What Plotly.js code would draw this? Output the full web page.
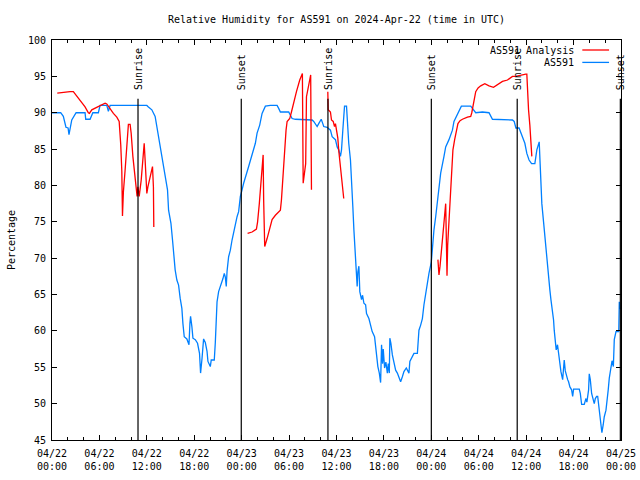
<!DOCTYPE html>
<html>
<head>
<meta charset="utf-8">
<script src="https://cdn.plot.ly/plotly-3.0.1.min.js"></script>
<style>html,body{margin:0;padding:0;background:#fff;}#chart{width:640px;height:480px;}</style>
</head>
<body>
<div id="chart"></div>
<script>
// Observed relative humidity (AS591)
const obsTime = [
"2024-04-22 00:00","2024-04-22 01:06","2024-04-22 01:26","2024-04-22 01:46","2024-04-22 02:02","2024-04-22 02:09","2024-04-22 02:30","2024-04-22 02:47","2024-04-22 03:03","2024-04-22 04:11",
"2024-04-22 04:16","2024-04-22 04:49","2024-04-22 05:10","2024-04-22 05:52","2024-04-22 06:05","2024-04-22 06:56","2024-04-22 07:08","2024-04-22 07:21","2024-04-22 08:37","2024-04-22 09:15",
"2024-04-22 09:53","2024-04-22 11:09","2024-04-22 12:00","2024-04-22 12:12","2024-04-22 12:38","2024-04-22 13:03","2024-04-22 13:16","2024-04-22 13:34","2024-04-22 13:54","2024-04-22 14:14",
"2024-04-22 14:37","2024-04-22 14:45","2024-04-22 15:03","2024-04-22 15:15","2024-04-22 15:23","2024-04-22 15:35","2024-04-22 15:48","2024-04-22 16:01","2024-04-22 16:13","2024-04-22 16:26",
"2024-04-22 16:34","2024-04-22 16:44","2024-04-22 17:04","2024-04-22 17:12","2024-04-22 17:20","2024-04-22 17:27","2024-04-22 17:32","2024-04-22 17:42","2024-04-22 17:50","2024-04-22 18:08",
"2024-04-22 18:25","2024-04-22 18:40","2024-04-22 18:48","2024-04-22 18:59","2024-04-22 19:11","2024-04-22 19:24","2024-04-22 19:37","2024-04-22 19:44","2024-04-22 20:02","2024-04-22 20:09",
"2024-04-22 20:32","2024-04-22 20:40","2024-04-22 20:47","2024-04-22 20:53","2024-04-22 21:05","2024-04-22 21:23","2024-04-22 21:38","2024-04-22 21:48","2024-04-22 21:56","2024-04-22 22:03",
"2024-04-22 22:09","2024-04-22 22:21","2024-04-22 22:34","2024-04-22 22:47","2024-04-22 22:59","2024-04-22 23:12","2024-04-22 23:25","2024-04-22 23:37","2024-04-22 23:50",
"2024-04-23 00:03","2024-04-23 00:15","2024-04-23 00:53","2024-04-23 01:19","2024-04-23 01:44","2024-04-23 01:57","2024-04-23 02:17","2024-04-23 02:35","2024-04-23 03:00","2024-04-23 03:38",
"2024-04-23 04:29","2024-04-23 04:41","2024-04-23 04:54","2024-04-23 05:57","2024-04-23 06:23","2024-04-23 06:48","2024-04-23 07:39","2024-04-23 08:29","2024-04-23 08:55","2024-04-23 09:07",
"2024-04-23 09:33","2024-04-23 09:45","2024-04-23 10:04","2024-04-23 10:16","2024-04-23 10:23","2024-04-23 10:49","2024-04-23 11:14","2024-04-23 11:27","2024-04-23 11:52","2024-04-23 12:05",
"2024-04-23 12:17","2024-04-23 12:30","2024-04-23 12:38","2024-04-23 12:48","2024-04-23 13:01","2024-04-23 13:16","2024-04-23 13:21","2024-04-23 13:33","2024-04-23 13:46","2024-04-23 13:54",
"2024-04-23 13:59","2024-04-23 14:04","2024-04-23 14:12","2024-04-23 14:24","2024-04-23 14:32","2024-04-23 14:37","2024-04-23 14:42","2024-04-23 14:50","2024-04-23 14:57","2024-04-23 15:10",
"2024-04-23 15:18","2024-04-23 15:28","2024-04-23 15:41","2024-04-23 15:48","2024-04-23 16:06","2024-04-23 16:19","2024-04-23 16:31","2024-04-23 16:49","2024-04-23 16:57","2024-04-23 17:04",
"2024-04-23 17:14","2024-04-23 17:25","2024-04-23 17:35","2024-04-23 17:42","2024-04-23 17:50","2024-04-23 17:55","2024-04-23 18:05","2024-04-23 18:15","2024-04-23 18:26","2024-04-23 18:33",
"2024-04-23 18:41","2024-04-23 18:45","2024-04-23 18:53","2024-04-23 19:04","2024-04-23 19:16","2024-04-23 19:29","2024-04-23 19:42","2024-04-23 19:54","2024-04-23 20:07","2024-04-23 20:20",
"2024-04-23 20:32","2024-04-23 20:50","2024-04-23 21:10","2024-04-23 21:17","2024-04-23 21:36","2024-04-23 21:48","2024-04-23 22:14","2024-04-23 22:26","2024-04-23 22:39","2024-04-23 22:52",
"2024-04-23 23:04","2024-04-23 23:17","2024-04-23 23:30","2024-04-23 23:42",
"2024-04-24 00:00","2024-04-24 00:10","2024-04-24 00:20","2024-04-24 00:33","2024-04-24 00:46","2024-04-24 00:58","2024-04-24 01:11","2024-04-24 01:36","2024-04-24 01:49","2024-04-24 02:14",
"2024-04-24 02:40","2024-04-24 02:52","2024-04-24 03:18","2024-04-24 03:48","2024-04-24 04:59","2024-04-24 05:24","2024-04-24 05:37","2024-04-24 06:28","2024-04-24 07:18","2024-04-24 07:44",
"2024-04-24 08:47","2024-04-24 09:38","2024-04-24 10:16","2024-04-24 10:29","2024-04-24 10:42","2024-04-24 11:06","2024-04-24 11:32","2024-04-24 11:50","2024-04-24 12:05","2024-04-24 12:22",
"2024-04-24 12:41","2024-04-24 13:06","2024-04-24 13:21","2024-04-24 13:31","2024-04-24 13:39","2024-04-24 13:46","2024-04-24 13:51","2024-04-24 13:59","2024-04-24 14:12","2024-04-24 14:22",
"2024-04-24 14:29","2024-04-24 14:37","2024-04-24 14:47","2024-04-24 15:00","2024-04-24 15:08","2024-04-24 15:20","2024-04-24 15:28","2024-04-24 15:33","2024-04-24 15:40","2024-04-24 15:48",
"2024-04-24 15:58","2024-04-24 16:06","2024-04-24 16:14","2024-04-24 16:24","2024-04-24 16:37","2024-04-24 16:44","2024-04-24 16:49","2024-04-24 16:57","2024-04-24 17:04","2024-04-24 17:15",
"2024-04-24 17:22","2024-04-24 17:32","2024-04-24 17:45","2024-04-24 17:53","2024-04-24 18:00","2024-04-24 18:43","2024-04-24 18:51","2024-04-24 19:01","2024-04-24 19:21","2024-04-24 19:34",
"2024-04-24 19:41","2024-04-24 19:54","2024-04-24 19:59","2024-04-24 20:07","2024-04-24 20:17","2024-04-24 20:32","2024-04-24 20:37","2024-04-24 20:45","2024-04-24 20:55","2024-04-24 21:03",
"2024-04-24 21:10","2024-04-24 21:20","2024-04-24 21:28","2024-04-24 21:35","2024-04-24 21:45","2024-04-24 21:53","2024-04-24 22:06","2024-04-24 22:13","2024-04-24 22:23","2024-04-24 22:31",
"2024-04-24 22:44","2024-04-24 22:52","2024-04-24 23:02","2024-04-24 23:09","2024-04-24 23:22","2024-04-24 23:43","2024-04-24 23:47","2024-04-24 23:53"
];
const obsRH = [
90.0,90.0,89.5,88.0,87.9,87.0,89.0,89.6,90.0,90.0,
89.1,89.1,90.0,90.0,91.0,91.0,90.2,91.0,91.0,90.9,
91.0,90.9,91.0,90.8,90.4,89.5,88.1,86.3,84.0,82.1,
79.4,76.6,74.8,72.5,70.7,68.4,67.0,66.3,64.5,63.1,
61.0,59.2,58.9,58.3,58.1,61.0,62.0,60.6,59.0,58.8,
58.3,56.9,54.2,56.2,58.9,58.4,57.2,55.8,55.1,56.0,
56.0,58.4,62.0,64.0,65.4,66.3,67.2,67.9,67.4,66.1,
68.2,70.2,71.1,72.5,73.6,74.3,75.7,76.4,78.5,
79.4,80.3,82.6,84.4,85.8,87.2,88.3,89.9,90.9,91.0,
91.0,90.6,90.1,90.1,89.2,89.1,89.1,89.1,89.0,88.8,
88.1,88.5,89.1,88.5,88.1,88.0,87.6,86.7,86.3,85.3,
84.9,84.0,84.9,87.6,90.9,90.9,89.0,85.8,83.5,81.3,
78.9,77.1,73.9,69.8,67.2,66.1,68.1,68.9,65.4,64.3,
64.9,63.8,63.6,62.4,61.7,60.8,59.9,59.2,58.0,56.5,
55.1,54.2,52.9,58.1,55.5,57.5,54.9,55.7,54.2,55.5,
54.2,59.0,58.3,56.7,55.5,54.6,54.2,53.5,53.0,53.7,
54.4,54.9,54.2,55.8,56.5,56.9,56.9,60.1,60.8,61.7,
63.6,65.2,66.5,67.9,
69.5,72.0,73.9,75.7,77.5,79.4,81.7,84.0,85.3,86.3,
87.6,88.8,89.7,90.9,90.9,90.4,90.0,90.1,90.0,89.1,
89.1,89.0,89.0,88.8,87.9,87.9,86.7,85.8,84.4,83.5,
83.0,83.0,84.9,85.6,86.0,83.0,79.8,77.5,75.0,72.9,
71.4,70.0,67.2,65.6,64.3,62.9,61.5,60.1,58.5,57.4,
58.1,56.7,55.5,54.4,53.3,54.5,56.0,54.5,53.9,53.3,
53.0,52.3,51.9,51.0,52.0,52.0,51.4,49.9,49.9,50.7,
50.2,51.9,54.1,53.3,51.4,50.5,50.0,50.7,51.0,51.0,
50.0,48.7,47.8,46.0,47.1,48.2,49.1,50.0,51.9,53.5,
55.1,55.9,55.1,58.8,59.9,59.9,64.0,63.0
];

// Analysis relative humidity (AS591 Analysis); null = gap
const anaTime = [
"2024-04-22 00:40","2024-04-22 01:14","2024-04-22 02:17","2024-04-22 02:42","2024-04-22 03:03","2024-04-22 03:20","2024-04-22 03:46","2024-04-22 04:11","2024-04-22 04:36","2024-04-22 04:44",
"2024-04-22 05:02","2024-04-22 05:27","2024-04-22 05:52","2024-04-22 06:18","2024-04-22 06:43","2024-04-22 06:56","2024-04-22 07:21","2024-04-22 07:46","2024-04-22 08:12","2024-04-22 08:30",
"2024-04-22 08:42","2024-04-22 08:50","2024-04-22 08:55","2024-04-22 09:02","2024-04-22 09:15","2024-04-22 09:28","2024-04-22 09:40","2024-04-22 09:53","2024-04-22 10:01","2024-04-22 10:14",
"2024-04-22 10:26","2024-04-22 10:39","2024-04-22 10:46","2024-04-22 10:52","2024-04-22 11:02","2024-04-22 11:17","2024-04-22 11:30","2024-04-22 11:40","2024-04-22 11:47","2024-04-22 11:55",
"2024-04-22 12:00","2024-04-22 12:08","2024-04-22 12:20","2024-04-22 12:33","2024-04-22 12:43","2024-04-22 12:50","2024-04-22 12:53",
"2024-04-22 18:00",
"2024-04-23 00:45","2024-04-23 01:19","2024-04-23 01:52","2024-04-23 02:01","2024-04-23 02:14","2024-04-23 02:27","2024-04-23 02:35","2024-04-23 02:43","2024-04-23 02:47","2024-04-23 02:55",
"2024-04-23 03:13","2024-04-23 03:33","2024-04-23 03:51","2024-04-23 04:16","2024-04-23 04:54","2024-04-23 05:02","2024-04-23 05:07","2024-04-23 05:12","2024-04-23 05:19","2024-04-23 05:27",
"2024-04-23 05:37","2024-04-23 05:45","2024-04-23 06:05","2024-04-23 06:18","2024-04-23 06:35","2024-04-23 06:56","2024-04-23 07:21","2024-04-23 07:41","2024-04-23 07:47","2024-04-23 08:06",
"2024-04-23 08:12","2024-04-23 08:37","2024-04-23 08:44","2024-04-23 08:50",
"2024-04-23 10:00",
"2024-04-23 10:54","2024-04-23 10:57","2024-04-23 11:14","2024-04-23 11:22","2024-04-23 11:35","2024-04-23 11:45","2024-04-23 11:52","2024-04-23 12:00","2024-04-23 12:10","2024-04-23 12:17",
"2024-04-23 12:30","2024-04-23 12:43","2024-04-23 12:51","2024-04-23 12:55",
"2024-04-23 18:00",
"2024-04-24 00:50","2024-04-24 00:58","2024-04-24 01:06","2024-04-24 01:16","2024-04-24 01:24","2024-04-24 01:31","2024-04-24 01:36","2024-04-24 01:44","2024-04-24 01:49","2024-04-24 01:54",
"2024-04-24 01:59","2024-04-24 02:04","2024-04-24 02:14","2024-04-24 02:22","2024-04-24 02:27","2024-04-24 02:32","2024-04-24 02:44","2024-04-24 02:57","2024-04-24 03:10","2024-04-24 03:22",
"2024-04-24 03:38","2024-04-24 03:56","2024-04-24 04:34","2024-04-24 04:59","2024-04-24 05:07","2024-04-24 05:20","2024-04-24 05:37","2024-04-24 05:55","2024-04-24 06:15","2024-04-24 06:46",
"2024-04-24 07:18","2024-04-24 07:52","2024-04-24 08:22","2024-04-24 09:00","2024-04-24 09:38","2024-04-24 10:16","2024-04-24 10:41","2024-04-24 11:19","2024-04-24 11:57","2024-04-24 12:05",
"2024-04-24 12:10","2024-04-24 12:18","2024-04-24 12:28","2024-04-24 12:35","2024-04-24 12:43"
];
const anaRH = [
92.7,92.8,92.9,92.9,92.4,92.0,91.5,90.8,90.0,89.9,
90.4,90.6,90.9,91.1,91.3,91.2,90.5,89.9,89.4,88.8,
85.6,82.0,75.8,79.1,82.1,85.3,88.4,88.4,87.2,84.0,
82.1,80.3,78.5,79.8,78.5,80.7,84.0,85.8,83.5,80.3,
78.9,79.8,80.7,81.6,82.6,79.8,74.3,
null,
73.4,73.6,74.0,75.0,77.5,80.3,82.1,84.2,78.0,71.6,
72.7,74.1,75.3,75.9,76.6,78.0,79.4,81.7,84.0,86.0,
87.6,88.8,89.2,90.1,91.5,92.9,94.5,95.4,80.3,83.0,
92.2,94.7,95.2,79.4,
null,
92.9,90.4,90.1,89.0,88.8,88.1,88.5,87.6,86.5,84.8,
82.6,81.0,79.4,78.2,
null,
69.8,67.7,68.9,71.1,72.5,74.1,75.3,76.6,77.5,72.5,
67.6,71.8,74.8,77.5,79.4,80.3,84.9,86.3,87.6,88.5,
88.9,89.1,89.4,89.5,90.0,91.3,92.9,93.4,93.7,94.0,
93.7,93.5,93.9,94.3,94.5,95.0,95.0,95.2,95.3,95.3,
92.7,90.4,88.3,86.0,84.0
];

// Sunrise / sunset events
const eventTime = ["2024-04-22 10:53","2024-04-22 23:57","2024-04-23 10:55","2024-04-24 00:00","2024-04-24 10:52","2024-04-24 23:55"];
const eventLabel = ["Sunrise","Sunset","Sunrise","Sunset","Sunrise","Sunset"];

const seriesNames = ["AS591 Analysis","AS591"];
const seriesColors = ["#ff0000","#0080ff"];

const FONT = "DejaVu Sans Mono, Liberation Mono, monospace";

const traces = [
  {x: obsTime, y: obsRH, type: "scatter", mode: "lines", name: seriesNames[1],
   line: {color: seriesColors[1], width: 1.3}},
  {x: anaTime, y: anaRH, type: "scatter", mode: "lines", name: seriesNames[0], connectgaps: false,
   line: {color: seriesColors[0], width: 1.3}}
];

const shapes = [];
const annotations = [];
eventTime.forEach((t, i) => {
  shapes.push({type: "line", xref: "x", yref: "paper", x0: t, x1: t, y0: 0, y1: 0.853,
    line: {color: "black", width: 1.2}, layer: "above"});
  annotations.push({xref: "x", yref: "paper", x: t, y: 0.87, text: eventLabel[i], textangle: -90,
    showarrow: false, xanchor: "center", yanchor: "bottom", font: {family: FONT, size: 10, color: "black"}});
});

// Legend drawn as text + line sample (gnuplot style: text then sample)
const legY = [0.975, 0.944];
seriesNames.forEach((n, i) => {
  annotations.push({xref: "paper", yref: "paper", x: 0.921, y: legY[i], text: n, showarrow: false,
    xanchor: "right", yanchor: "middle", font: {family: FONT, size: 10, color: "black"}});
  shapes.push({type: "line", xref: "paper", yref: "paper", x0: 0.932, x1: 0.979, y0: legY[i], y1: legY[i],
    line: {color: seriesColors[i], width: 1.3}});
});

const axisCommon = {
  showline: true, linecolor: "black", linewidth: 1, mirror: "allticks",
  ticks: "inside", ticklen: 5, tickcolor: "black", tickwidth: 1,
  showgrid: false, zeroline: false,
  tickfont: {family: FONT, size: 10, color: "black"}
};

const layout = {
  width: 640, height: 480,
  margin: {l: 52, r: 19, t: 40, b: 40},
  paper_bgcolor: "white", plot_bgcolor: "white",
  showlegend: false,
  title: {text: "Relative Humidity for AS591 on 2024-Apr-22 (time in UTC)", x: 0.5, xref: "paper",
    y: 1 - 19/480, yref: "container", yanchor: "middle", font: {family: FONT, size: 10, color: "black"}},
  xaxis: Object.assign({}, axisCommon, {
    type: "date", range: ["2024-04-22 00:00", "2024-04-25 00:00"],
    tick0: "2024-04-22 00:00", dtick: 21600000, tickformat: "%m/%d<br>%H:%M",
    ticklabelstandoff: 4,
    minor: {dtick: 7200000, ticks: "inside", ticklen: 3, tickcolor: "black", showgrid: false}
  }),
  yaxis: Object.assign({}, axisCommon, {
    range: [45, 100], tick0: 45, dtick: 5,
    ticklabelstandoff: 3,
    title: {text: "Percentage", standoff: 10, font: {family: FONT, size: 10, color: "black"}}
  }),
  shapes: shapes,
  annotations: annotations
};

Plotly.newPlot("chart", traces, layout, {staticPlot: true, displayModeBar: false});
</script>
</body>
</html>
